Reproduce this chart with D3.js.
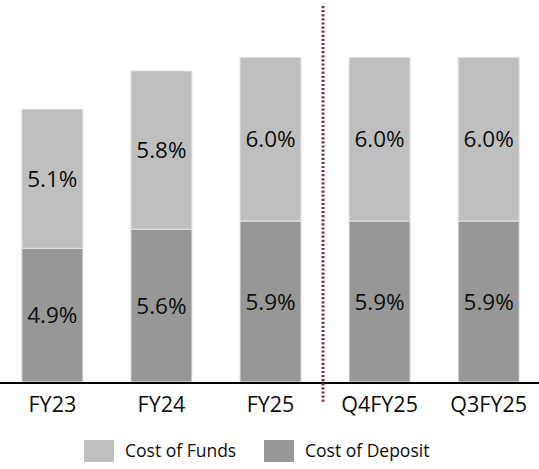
<!DOCTYPE html>
<html>
<head>
<meta charset="utf-8">
<script src="https://cdn.jsdelivr.net/npm/d3@7"></script>
<style>
    body { margin: 0; background: #fff; }
    text { font-family: "Open Sans", sans-serif; fill: #000; }
</style>
</head>
<body>
<svg width="539" height="469"></svg>
<script>
var categories = ["FY23", "FY24", "FY25", "Q4FY25", "Q3FY25"];
var costOfDeposit = [4.9, 5.6, 5.9, 5.9, 5.9];
var costOfFunds = [5.1, 5.8, 6.0, 6.0, 6.0];
var seriesNames = ["Cost of Funds", "Cost of Deposit"];
var dividerAfter = "FY25";

var svg = d3.select("svg"),
    width = +svg.attr("width"),
    baseY = 382;

var colors = {"Cost of Funds": "#bfbfbf", "Cost of Deposit": "#979797"};

var rows = categories.map(function (c, i) {
    return {cat: c, "Cost of Deposit": costOfDeposit[i], "Cost of Funds": costOfFunds[i]};
});

var stack = d3.stack().keys(["Cost of Deposit", "Cost of Funds"]);
var layers = stack(rows);

var x = d3.scaleBand()
    .domain(categories)
    .range([0, 541])
    .paddingInner(0.44)
    .paddingOuter(0.2);

var y = d3.scaleLinear()
    .domain([0, 14])
    .range([baseY, 0]);

var layer = svg.selectAll(".layer")
    .data(layers)
    .enter().append("g")
    .attr("class", "layer")
    .attr("fill", function (d) { return colors[d.key]; });

layer.selectAll("rect")
    .data(function (d) { return d; })
    .enter().append("rect")
    .attr("x", function (d) { return x(d.data.cat); })
    .attr("y", function (d) { return y(d[1]); })
    .attr("width", x.bandwidth())
    .attr("height", function (d) { return y(d[0]) - y(d[1]); })
    .attr("stroke", "#e4e4e4")
    .attr("stroke-width", 1);

layer.selectAll("text")
    .data(function (d) { return d.map(function (p) { return {p: p, v: p[1] - p[0]}; }); })
    .enter().append("text")
    .attr("x", function (d) { return x(d.p.data.cat) + x.bandwidth() / 2; })
    .attr("y", function (d) { return (y(d.p[0]) + y(d.p[1])) / 2; })
    .attr("dy", "0.36em")
    .attr("text-anchor", "middle")
    .style("font-size", "22.5px")
    .style("fill", "#0d0d0d")
    .text(function (d) { return d.v.toFixed(1) + "%"; });

// axis line + labels
var xAxis = svg.append("g")
    .attr("transform", "translate(0," + (baseY + 1) + ")")
    .call(d3.axisBottom(x).tickSize(0).tickPadding(14));
xAxis.select(".domain")
    .attr("d", "M0,0H" + width)
    .attr("stroke", "#000")
    .attr("stroke-width", 2);
xAxis.selectAll("text")
    .style("font-size", "21.5px")
    .style("font-family", "'Open Sans', sans-serif")
    .style("fill", "#0d0d0d");

// dotted divider between annual and quarterly
var divX = (x(dividerAfter) + x.bandwidth() + x(categories[categories.indexOf(dividerAfter) + 1])) / 2 - 2;
svg.append("line")
    .attr("x1", divX)
    .attr("x2", divX)
    .attr("y1", 6)
    .attr("y2", 403)
    .attr("stroke", "#8a2a4c")
    .attr("stroke-width", 3)
    .attr("stroke-dasharray", "2.2,1.9");

// legend
var legendX = [84, 264];
var legend = svg.selectAll(".legend")
    .data(seriesNames)
    .enter().append("g")
    .attr("class", "legend")
    .attr("transform", function (d, i) { return "translate(" + legendX[i] + ",440)"; });

legend.append("rect")
    .attr("width", 30)
    .attr("height", 22)
    .attr("fill", function (d) { return colors[d]; });

legend.append("text")
    .attr("x", 41)
    .attr("y", 17)
    .style("font-size", "17.5px")
    .style("fill", "#0d0d0d")
    .text(function (d) { return d; });
</script>
</body>
</html>
